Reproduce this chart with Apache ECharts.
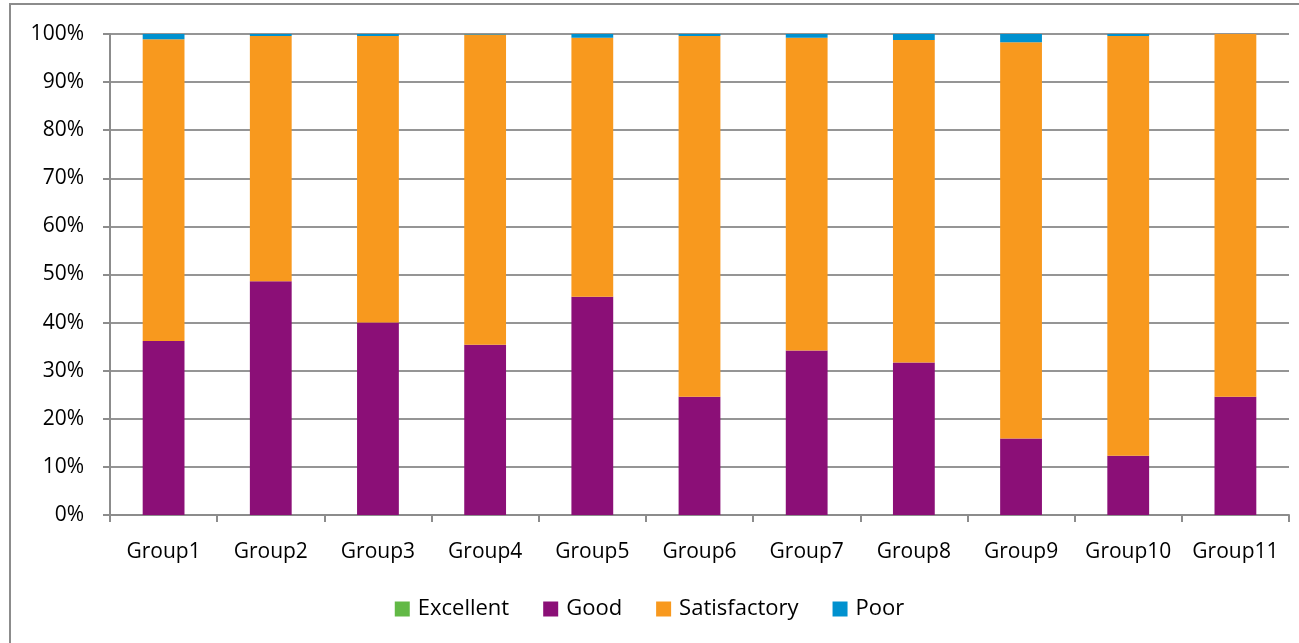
<!DOCTYPE html>
<html>
<head>
<meta charset="utf-8">
<title>Rating distribution by group</title>
<script src="https://cdn.jsdelivr.net/npm/echarts@6/dist/echarts.min.js"></script>
<style>
  html, body { margin: 0; padding: 0; background: #fff; }
  #chart { width: 1299px; height: 643px; }
</style>
</head>
<body>
<div id="chart"></div>
<script>
// Share of ratings (percent) per group
const categories = ['Group1', 'Group2', 'Group3', 'Group4', 'Group5', 'Group6',
                    'Group7', 'Group8', 'Group9', 'Group10', 'Group11'];
const excellent    = [0, 0, 0, 0, 0, 0, 0, 0, 0, 0, 0];
const good         = [36.2, 48.6, 40.0, 35.4, 45.4, 24.6, 34.2, 31.7, 15.9, 12.3, 24.6];
const poor         = [1.1, 0.4, 0.4, 0.1, 0.8, 0.4, 0.8, 1.25, 1.7, 0.4, 0];
const satisfactory = good.map((g, i) => +(100 - g - poor[i] - excellent[i]).toFixed(2));
const yTicks = { min: 0, max: 100, interval: 10 };

const font = '"Open Sans", Lato, sans-serif';
const axisGray = '#8c8c8c';

const chart = echarts.init(document.getElementById('chart'), null, { renderer: 'canvas' });

function barSeries(name, data, color) {
  return {
    name: name,
    type: 'bar',
    stack: 'total',
    barWidth: '39%',
    data: data,
    itemStyle: { color: color },
    emphasis: { disabled: true }
  };
}

chart.setOption({
  animation: false,
  textStyle: { fontFamily: font },
  graphic: [{
    type: 'rect',
    shape: { x: 10, y: 4, width: 1400, height: 800 },
    style: { fill: 'none', stroke: axisGray, lineWidth: 2 },
    silent: true,
    z: -1
  }],
  grid: { left: 110, right: 10, top: 34, bottom: 128, containLabel: false },
  legend: {
    data: ['Excellent', 'Good', 'Satisfactory', 'Poor'],
    bottom: 18,
    left: 'center',
    itemWidth: 15,
    itemHeight: 15,
    itemGap: 34,
    icon: 'rect',
    textStyle: { fontFamily: font, fontSize: 22, color: '#000', padding: [0, 0, 0, 3] }
  },
  xAxis: {
    type: 'category',
    data: categories,
    axisLine: { show: true, lineStyle: { color: axisGray, width: 2 } },
    axisTick: { show: true, interval: 0, alignWithLabel: false, length: 7, lineStyle: { color: axisGray, width: 2 } },
    axisLabel: { interval: 0, color: '#000', fontSize: 21, margin: 27, fontFamily: font },
    splitLine: { show: false }
  },
  yAxis: {
    type: 'value',
    min: yTicks.min,
    max: yTicks.max,
    interval: yTicks.interval,
    axisLine: { show: true, lineStyle: { color: axisGray, width: 2 } },
    axisTick: { show: true, length: 7, lineStyle: { color: axisGray, width: 2 } },
    axisLabel: { color: '#000', fontSize: 21, margin: 26, formatter: '{value}%', fontFamily: font },
    splitLine: { show: true, lineStyle: { color: '#959595', width: 2 } }
  },
  series: [
    barSeries('Excellent', excellent, '#62b946'),
    barSeries('Good', good, '#8b0f77'),
    barSeries('Satisfactory', satisfactory, '#f8991e'),
    barSeries('Poor', poor, '#0091cf')
  ]
});
</script>
</body>
</html>
